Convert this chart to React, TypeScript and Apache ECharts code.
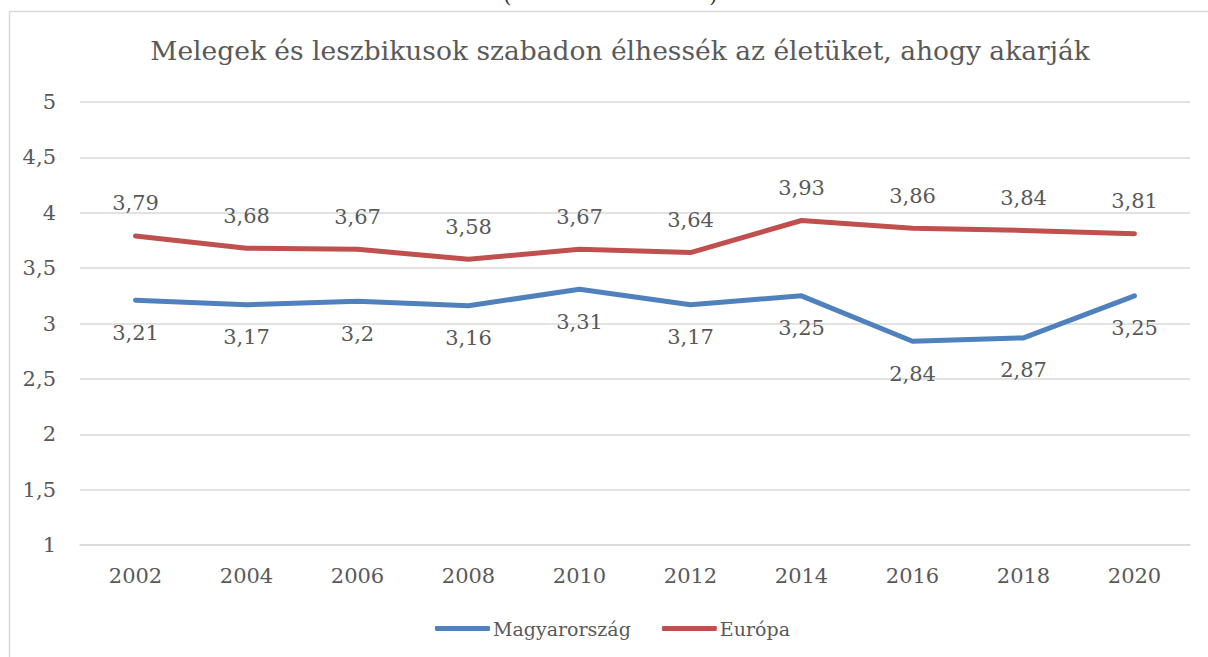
import React, { useEffect, useRef } from "react";
import * as echarts from "echarts";

const years = ["2002", "2004", "2006", "2008", "2010", "2012", "2014", "2016", "2018", "2020"];
const hungary = [3.21, 3.17, 3.2, 3.16, 3.31, 3.17, 3.25, 2.84, 2.87, 3.25];
const europe = [3.79, 3.68, 3.67, 3.58, 3.67, 3.64, 3.93, 3.86, 3.84, 3.81];
const titleText = "Melegek és leszbikusok szabadon élhessék az életüket, ahogy akarják";

const FONT = "'DejaVu Serif', 'Liberation Serif', serif";
const TXT = "#595959";
const fmt = (v: number) => String(v).replace(".", ",");

export default function App() {
  const ref = useRef<HTMLDivElement>(null);
  useEffect(() => {
    const chart = echarts.init(ref.current!, null, { renderer: "svg" });
    chart.setOption({
      animation: false,
      backgroundColor: "#ffffff",
      textStyle: { fontFamily: FONT },
      title: {
        text: titleText,
        left: 615,
        top: 32,
        textAlign: "center",
        textStyle: { fontFamily: FONT, fontSize: 26.5, fontWeight: "normal", color: TXT },
      },
      graphic: [
        {
          type: "rect",
          shape: { x: 9.5, y: 11.5, width: 1400, height: 800 },
          style: { fill: "none", stroke: "#d9d9d9", lineWidth: 1.5 },
          silent: true,
        },
        {
          type: "text",
          x: 503,
          y: -17,
          style: { text: "(", font: "22px 'DejaVu Serif', serif", fill: "#333" },
          silent: true,
        },
        {
          type: "text",
          x: 709,
          y: -17,
          style: { text: ")", font: "22px 'DejaVu Serif', serif", fill: "#333" },
          silent: true,
        },
      ],
      legend: {
        bottom: 14,
        left: 430,
        itemWidth: 55,
        itemHeight: 5,
        itemGap: 31,
        icon: "roundRect",
        textStyle: { fontFamily: FONT, fontSize: 19, color: TXT, padding: [0, 0, 0, -2] },
        data: ["Magyarország", "Európa"],
      },
      grid: { left: 80, right: 18, top: 102, bottom: 112, containLabel: false },
      xAxis: {
        type: "category",
        data: years,
        boundaryGap: true,
        axisLine: { lineStyle: { color: "#d9d9d9", width: 1.5 } },
        axisTick: { show: false },
        axisLabel: { fontFamily: FONT, fontSize: 21, color: TXT, margin: 20 },
      },
      yAxis: {
        type: "value",
        min: 1,
        max: 5,
        interval: 0.5,
        axisLine: { show: false },
        axisTick: { show: false },
        splitLine: { lineStyle: { color: "#d9d9d9", width: 1.5 } },
        axisLabel: { fontFamily: FONT, fontSize: 21, color: TXT, margin: 24, formatter: (v: number) => fmt(v) },
      },
      series: [
        {
          name: "Magyarország",
          type: "line",
          data: hungary,
          symbol: "circle",
          symbolSize: 0.1,
          showSymbol: true,
          lineStyle: { color: "#4F81BD", width: 5, cap: "round", join: "round" },
          itemStyle: { color: "#4F81BD" },
          label: { show: true, position: "bottom", distance: 22, fontFamily: FONT, fontSize: 21, color: TXT, formatter: (p: any) => fmt(p.value) },
        },
        {
          name: "Európa",
          type: "line",
          data: europe,
          symbol: "circle",
          symbolSize: 0.1,
          showSymbol: true,
          lineStyle: { color: "#C0504D", width: 5, cap: "round", join: "round" },
          itemStyle: { color: "#C0504D" },
          label: { show: true, position: "top", distance: 22, fontFamily: FONT, fontSize: 21, color: TXT, formatter: (p: any) => fmt(p.value) },
        },
      ],
    });
    return () => chart.dispose();
  }, []);
  return <div ref={ref} style={{ position: "fixed", left: 0, top: 0, width: 1208, height: 657 }} />;
}
